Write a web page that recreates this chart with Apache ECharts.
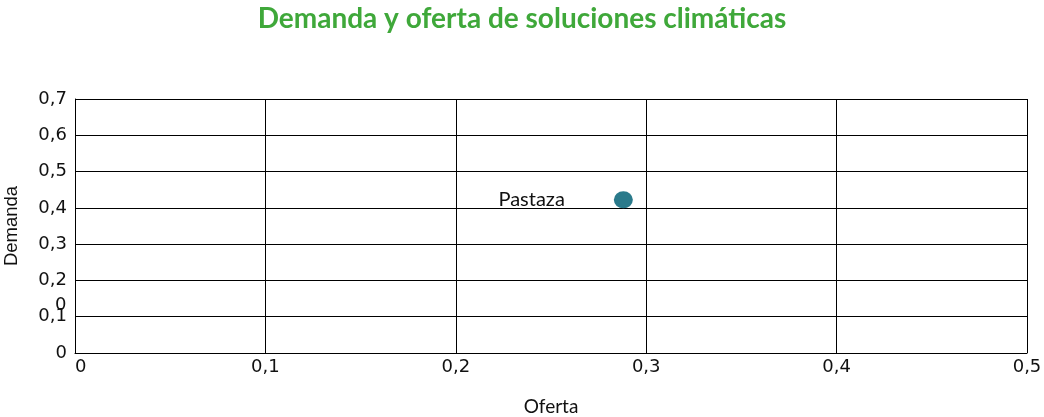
<!DOCTYPE html>
<html><head><meta charset="utf-8">
<script src="https://cdn.jsdelivr.net/npm/echarts@6/dist/echarts.min.js"></script>
<style>html,body{margin:0;padding:0;background:#fff}#c{width:1044px;height:417px}</style>
</head><body><div id="c"></div>
<script>
const names = ['Pastaza'];
const oferta = [0.288];
const demanda = [0.422];
const xTicks = ['0','0,1','0,2','0,3','0,4','0,5'];
const yTicks = ['0','0,1','0,2','0,3','0,4','0,5','0,6','0,7'];

const chart = echarts.init(document.getElementById('c'));
chart.setOption({
  animation:false,
  title:{text:'Demanda y oferta de soluciones climáticas',left:'center',top:0,
    textStyle:{color:'#3FA83A',fontFamily:'Lato',fontWeight:'bold',fontSize:28}},
  grid:{left:75,right:17,top:99,bottom:64,containLabel:false,outerBoundsMode:'none'},
  xAxis:{type:'value',min:0,max:0.5,interval:0.1,name:'Oferta',nameLocation:'middle',nameGap:44,
    nameTextStyle:{fontFamily:'Lato',fontSize:19,color:'#111'},
    axisLine:{lineStyle:{color:'#000',width:1}},axisTick:{show:false},
    axisLabel:{formatter:v=>xTicks[Math.round(v*10)],fontFamily:'DejaVu Sans',fontSize:18,color:'#111',margin:5,
      alignMinLabel:'left'},
    splitLine:{show:true,lineStyle:{color:'#000',width:1}}},
  yAxis:{type:'value',min:0,max:0.7,interval:0.1,name:'Demanda',nameLocation:'middle',nameGap:54,
    nameTextStyle:{fontFamily:'Liberation Sans',fontSize:18.5,color:'#111'},
    axisLine:{show:true,lineStyle:{color:'#000',width:1}},axisTick:{show:false},
    axisLabel:{formatter:v=>yTicks[Math.round(v*10)],fontFamily:'DejaVu Sans',fontSize:18,color:'#111',margin:8},
    splitLine:{show:true,lineStyle:{color:'#000',width:1}}},
  graphic:[{type:'text',left:55,top:296,style:{text:'0',font:'18px "DejaVu Sans"',fill:'#111'}}],
  series:[{type:'scatter',symbol:'circle',symbolSize:[19,17],
    itemStyle:{color:'#2A7A8B',opacity:1},
    label:{show:true,position:'left',distance:49,formatter:p=>names[p.dataIndex],
      fontFamily:'Lato',fontSize:20,color:'#111'},
    data:oferta.map((x,i)=>[x,demanda[i]])}]
});
</script></body></html>
